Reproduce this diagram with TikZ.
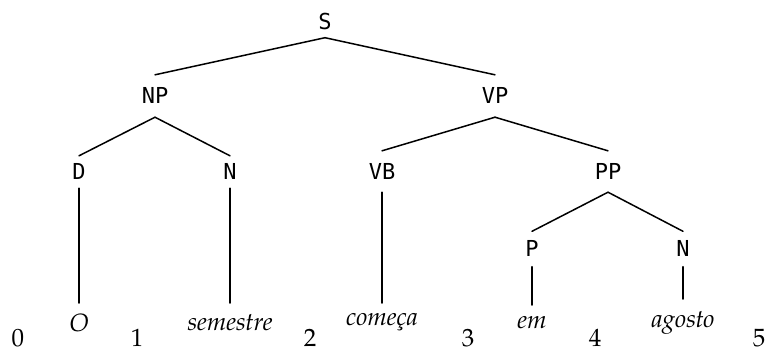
\documentclass[tikz,border=0pt]{standalone}
\usepackage{fontspec}
\newfontfamily\labelfont{DejaVu Sans Mono}
\newfontfamily\pagfont{texgyrepagella}[Extension=.otf, UprightFont=*-regular, ItalicFont=*-italic, BoldFont=*-bold]
\begin{document}
\begin{tikzpicture}[x=1pt,y=-1pt,
  cat/.style={font=\labelfont\fontsize{22}{26}\selectfont, text height=15pt, text depth=0pt, inner xsep=0pt},
  leaf/.style={font=\pagfont\itshape\fontsize{25}{30}\selectfont, anchor=north, text height=17pt, text depth=6pt, inner xsep=0pt},
  idx/.style={font=\pagfont\fontsize{25}{30}\selectfont, anchor=base, inner sep=0pt},
  edge/.style={line width=1.5pt, line cap=round}]
\useasboundingbox (0,0) rectangle (768,349);
% categories
\node[cat, inner ysep=8.5pt]  (S)   at (325,21.5) {S};
\node[cat, inner ysep=13.5pt] (NP)  at (155,96) {NP};
\node[cat, inner ysep=13.5pt] (VP)  at (495,96) {VP};
\node[cat, inner ysep=8.5pt]  (D)   at (79,172) {D};
\node[cat, inner ysep=8.5pt]  (N1)  at (230,172) {N};
\node[cat, inner ysep=13pt]   (VB)  at (382,171.5) {VB};
\node[cat, inner ysep=13pt]   (PP)  at (608,171.5) {PP};
\node[cat, inner ysep=10pt]   (P)   at (532,249) {P};
\node[cat, inner ysep=10pt]   (N2)  at (683,249) {N};
% leaves
\node[leaf, inner ysep=11pt] (w1) at (79,303) {O};
\node[leaf, inner ysep=10pt] (w2) at (230,303) {semestre};
\node[leaf, inner ysep=5pt]  (w3) at (382,303) {começa};
\node[leaf, inner ysep=6pt]  (w4) at (532,305) {em};
\node[leaf, inner ysep=11pt] (w5) at (683,299) {agosto};
% indices
\node[idx] (i0) at (18,346) {0};
\node[idx] (i1) at (137,346) {1};
\node[idx] (i2) at (310,346) {2};
\node[idx] (i3) at (468,346) {3};
\node[idx] (i4) at (595,346) {4};
\node[idx] (i5) at (759,346) {5};
% edges
\draw[edge] (S.south) -- (NP.north);
\draw[edge] (S.south) -- (VP.north);
\draw[edge] (NP.south) -- (D.north);
\draw[edge] (NP.south) -- (N1.north);
\draw[edge] (VP.south) -- (VB.north);
\draw[edge] (VP.south) -- (PP.north);
\draw[edge] (PP.south) -- (P.north);
\draw[edge] (PP.south) -- (N2.north);
\draw[edge] (D.south) -- (w1.north);
\draw[edge] (N1.south) -- (w2.north);
\draw[edge] (VB.south) -- (w3.north);
\draw[edge] (P.south) -- (w4.north);
\draw[edge] (N2.south) -- (w5.north);
\end{tikzpicture}
\end{document}
